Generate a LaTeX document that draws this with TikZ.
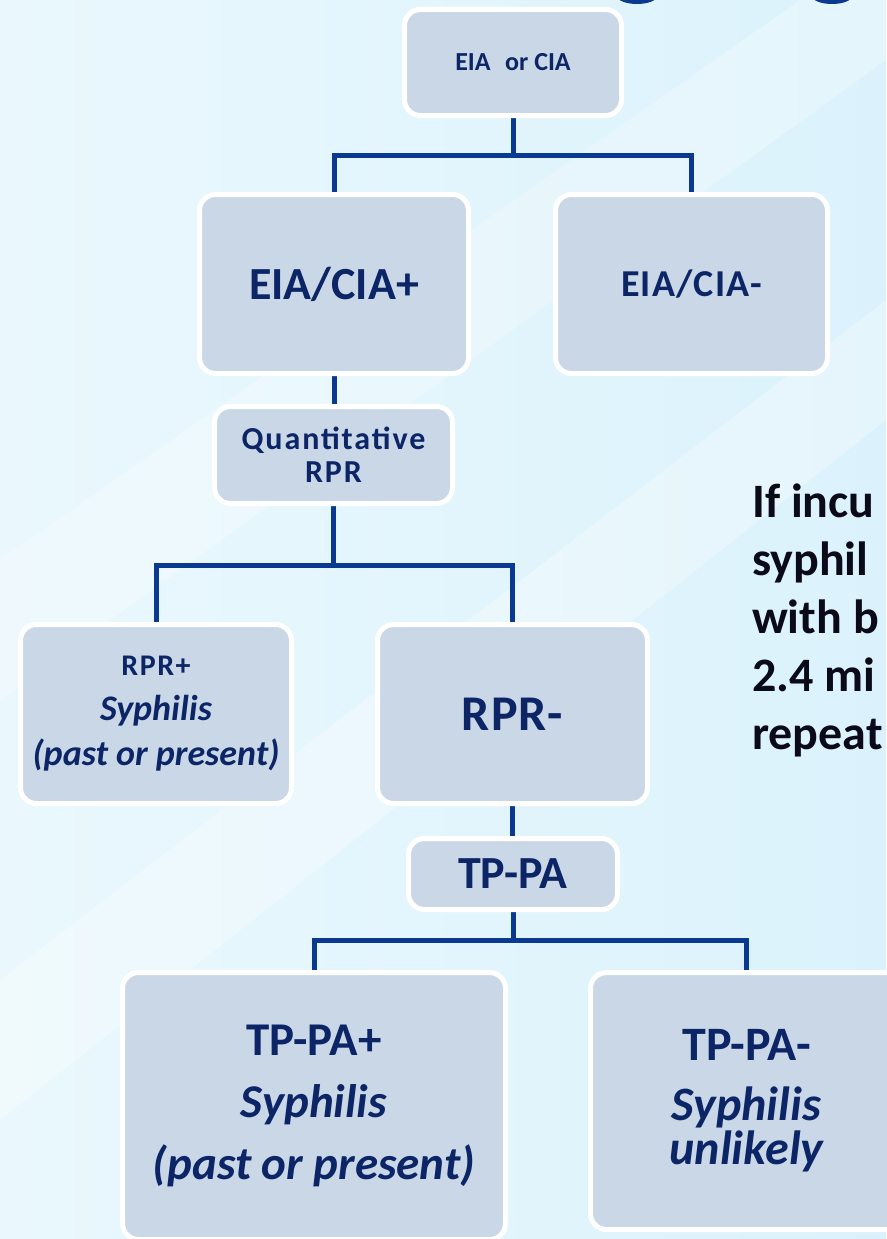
\documentclass[tikz,border=0pt]{standalone}
\usepackage{fontspec}
\setmainfont{Carlito}
\definecolor{bgblue}{HTML}{DBF2FC}
\definecolor{bglight}{HTML}{EAF8FD}
\definecolor{boxfill}{HTML}{CAD7E6}
\definecolor{navy}{HTML}{0B2566}
\definecolor{wirec}{HTML}{0A3A90}
\definecolor{notec}{HTML}{0A0A18}
\pgfdeclarelayer{bg}
\pgfdeclarelayer{wires}
\pgfsetlayers{bg,wires,main}
\tikzset{
  box/.style={draw=white, line width=5pt, fill=boxfill, rounded corners=16pt,
    inner sep=0pt, align=center, text=navy},
  fsz/.style 2 args={font={\bfseries\fontsize{#1}{#2}\selectfont}},
  wire/.style={draw=wirec, line width=5pt, line join=miter},
}
\begin{document}
\begin{tikzpicture}[x=1pt,y=-1pt]
\useasboundingbox (0,0) rectangle (886,1239);
% nodes
\node[box, fsz={26}{32}, minimum width=217pt, minimum height=106pt] (top) at (513,62.5)
  {EIA\,\, or CIA};
\node[box, fsz={46}{50}, minimum width=269pt, minimum height=179pt] (ap) at (334,284)
  {EIA/CIA+};
\node[box, fsz={38}{42}, minimum width=272pt, minimum height=179pt] (am) at (691.5,284)
  {\addfontfeatures{LetterSpace=3}EIA/CIA-};
\node[box, fsz={32}{33}, minimum width=238pt, minimum height=97pt] (q) at (333.5,455)
  {\addfontfeatures{LetterSpace=6}Quantitative\\\addfontfeatures{LetterSpace=6}RPR};
\node[box, fsz={36}{45}, minimum width=271pt, minimum height=179pt] (rp) at (156,714)
  {\fontsize{30}{45}\selectfont\addfontfeatures{LetterSpace=5}RPR+\\\itshape Syphilis\\\itshape (past or present)};
\node[box, fsz={50}{54}, minimum width=270pt, minimum height=179pt] (rm) at (512.5,714)
  {\addfontfeatures{LetterSpace=2}RPR-};
\node[box, fsz={46}{50}, minimum width=209pt, minimum height=71pt] (tp) at (513,874)
  {TP-PA};
\node[box, fsz={47}{62}, minimum width=383pt, minimum height=267pt] (tpp) at (314,1106)
  {TP-PA+\\\itshape Syphilis\\\itshape (past or present)};
\node[box, fsz={48}{44}, minimum width=312pt, minimum height=257pt] (tpm) at (746.5,1101)
  {TP-PA-\\[16pt]\itshape Syphilis\\\itshape unlikely};
\node[anchor=north west, align=left, inner sep=0pt, text=notec,
  fsz={48}{58}] (note) at (752,484)
  {If incu\\syphil\\with b\\2.4 mi\\repeat};
% connectors
\begin{pgfonlayer}{wires}
\draw[wire] (top.south) -- ++(0,37) coordinate (j1);
\draw[wire] (ap.north) |- (j1) -| (am.north);
\draw[wire] (ap.south) -- (ap.south |- q.north);
\draw[wire] (q.south) -- ++(0,59) coordinate (j2);
\draw[wire] (rp.north) |- (j2) -| (rm.north);
\draw[wire] (rm.south) -- (rm.south |- tp.north);
\draw[wire] (tp.south) -- ++(0,28) coordinate (j3);
\draw[wire] (tpp.north) |- (j3) -| (tpm.north);
\end{pgfonlayer}
% background
\begin{pgfonlayer}{bg}
\shade[left color=bglight, right color=bgblue] (0,0) rectangle (886,1239);
\fill[white, opacity=0.3] (0,980) -- (886,300) -- (886,420) -- (0,1120) -- cycle;
\fill[white, opacity=0.25] (0,560) -- (886,-60) -- (886,60) -- (0,700) -- cycle;
\fill[wirec] (637,-4) ellipse (20pt and 8pt);
\fill[wirec] (832,-4) ellipse (20pt and 8pt);
\end{pgfonlayer}
\end{tikzpicture}
\end{document}
